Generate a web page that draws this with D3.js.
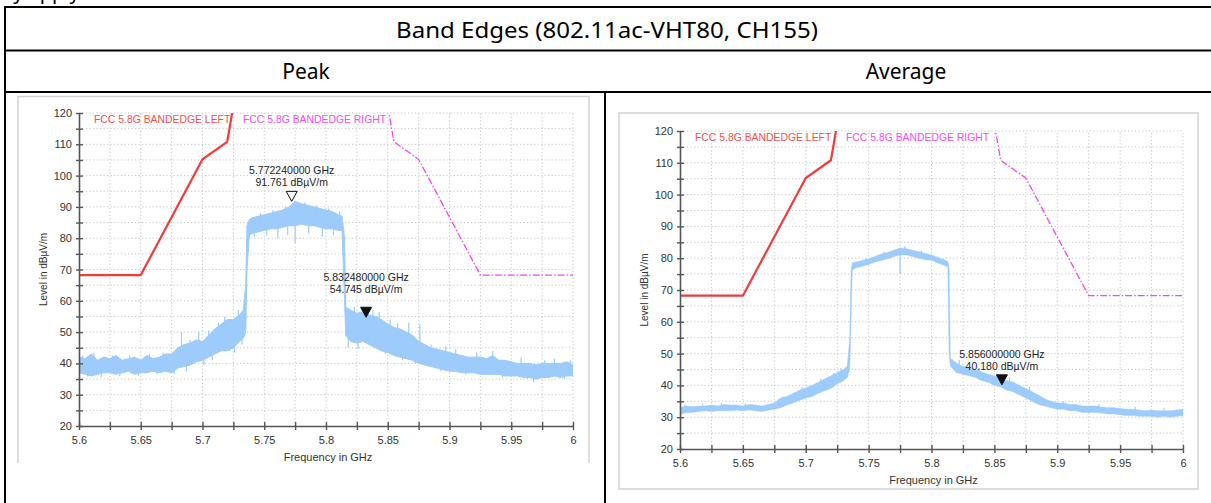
<!DOCTYPE html>
<html>
<head>
<meta charset="utf-8">
<script src="https://cdn.jsdelivr.net/npm/d3@7"></script>
<style>
body { margin: 0; background: #fff; }
svg { display: block; font-family: "Liberation Sans", Arial, sans-serif; }
</style>
</head>
<body>
<div id="chart"></div>
<script>
// spectrum traces, binned: [GHz, low dBuV/m, high dBuV/m]
var peakTrace = [
  [5.600,37,42],[5.605,36.5,41.5],[5.610,36,43],[5.615,36.5,41],[5.620,37,42],
  [5.625,37,41.5],[5.630,36.5,42.5],[5.635,37,41],[5.640,37.5,41.5],[5.645,36.5,42],
  [5.650,37,41],[5.655,37,42.5],[5.660,37.5,41.5],[5.665,37,42],[5.670,37.5,43],
  [5.675,37,43],[5.680,38.5,45],[5.685,39,46],[5.690,39.5,46.5],[5.695,40.5,47.5],
  [5.700,41,47],[5.705,42,49],[5.710,43,51],[5.715,44,52.5],[5.720,44,54],
  [5.725,45,54],[5.730,47,55.5],[5.733,48,57],[5.735,50,65],[5.736,70,84],
  [5.738,81,86],[5.740,81.5,86.5],[5.745,82,87],[5.750,82.5,87.5],[5.755,83,88],
  [5.760,83,88.5],[5.765,83.5,89],[5.770,84,90],[5.775,84,91.8],[5.780,84.5,91],
  [5.785,84,90.5],[5.790,84,90],[5.795,83.5,89.5],[5.800,83,89],[5.805,83,88.5],
  [5.810,82.5,87.5],[5.813,82.5,87],[5.815,60,80],[5.816,49,58],[5.820,47,57],
  [5.825,46.5,56],[5.830,47,56.5],[5.835,46,55.5],[5.840,45,55],[5.845,44,54],
  [5.850,43.5,52.5],[5.855,42.5,51.5],[5.860,42,51],[5.865,41.5,50],[5.870,41,49],
  [5.875,40,47],[5.880,39.5,46],[5.885,39,45],[5.890,38.5,44.5],[5.895,38,44],
  [5.900,37.5,43.5],[5.905,37.5,43],[5.910,37,42.5],[5.915,37,42],[5.920,37,42],
  [5.925,36.5,42],[5.930,36.5,41.5],[5.935,36.5,42.5],[5.940,36.5,41],[5.945,36,41],
  [5.950,36,40.5],[5.955,36,40],[5.960,35.5,40],[5.965,35.5,40],[5.970,35,39.5],
  [5.975,35.5,40],[5.980,35.5,40],[5.985,36,40],[5.990,35.5,40],[5.995,36,40.5],
  [6.000,36,39.5]
];
var peakSpikes = [
  [5.603,42.5],[5.607,35.8],[5.612,43.5],[5.618,35.5],[5.627,42.5],[5.633,36],[5.641,42.5],
  [5.648,36],[5.657,43],[5.663,36.5],[5.668,43.5],[5.677,36.5],[5.683,50],[5.687,37.5],
  [5.690,47.5],[5.697,50],[5.701,39.5],[5.705,50.5],[5.708,41],[5.713,53],[5.718,55],
  [5.722,44],[5.726,43.5],[5.729,57],[5.732,46],[5.742,80.5],[5.747,88],[5.752,80.8],
  [5.757,89],[5.761,80],[5.767,90],[5.769,81],[5.775,78.5],[5.778,91.5],[5.783,91.5],
  [5.786,81.5],[5.792,90.5],[5.797,80.5],[5.802,89.5],[5.806,81],[5.811,88.5],
  [5.818,45],[5.823,58],[5.826,44.5],[5.832,55.5],[5.838,57],[5.843,56.5],[5.848,43],
  [5.852,54],[5.858,53],[5.862,41],[5.867,53],[5.872,40],[5.876,52.5],[5.885,46],
  [5.893,37.5],[5.897,45.5],[5.905,44.5],[5.913,36.5],[5.922,43.5],[5.935,44],
  [5.943,35.5],[5.958,42],[5.963,35],[5.968,34],[5.977,41],[5.985,41.5],[5.993,35],[5.998,41]
];
var avgTrace = [
  [5.600,30.8,33],[5.605,31.5,33.5],[5.610,31.5,33.3],[5.615,31.8,33.5],[5.620,32,33.5],
  [5.625,31.8,33.8],[5.630,32,33.5],[5.635,32,34],[5.640,32,33.8],[5.645,32.2,33.8],
  [5.650,32,33.5],[5.655,32.3,34],[5.660,32,33.8],[5.665,31.8,33.5],[5.670,32.2,34],
  [5.675,32.5,34.5],[5.680,33,36],[5.685,33.8,36.5],[5.690,34.5,37.5],[5.695,35.3,38.5],
  [5.700,36,39.3],[5.705,36.5,40],[5.710,37.5,41],[5.715,38.3,42],[5.720,39,43],
  [5.725,40.5,44],[5.730,41.5,45],[5.733,42.5,46],[5.735,45,55],[5.736,60,76],
  [5.737,76.3,78.5],[5.740,77,78.8],[5.745,77.5,79.3],[5.750,78,79.8],[5.755,78.8,80.5],
  [5.760,79.3,81.3],[5.765,79.8,81.8],[5.770,80.5,82.5],[5.775,81,83.2],[5.780,81,83],
  [5.785,80.5,82.5],[5.790,80,82],[5.795,79.5,81.5],[5.800,79.3,81],[5.805,78.5,80.3],
  [5.810,77.8,79.5],[5.813,77.3,79],[5.814,50,77],[5.815,46,48.5],[5.820,44,47],
  [5.825,43.5,46],[5.830,43,45.5],[5.835,42.5,45],[5.840,41.5,44.2],[5.845,41,43.5],
  [5.850,40,43],[5.855,39.5,42],[5.860,38.5,41.5],[5.865,38,41],[5.870,37,40],
  [5.875,36,39],[5.880,35,38],[5.885,34,37],[5.890,33.5,35.8],[5.895,33,35],
  [5.900,32.5,34.5],[5.905,32.5,34.5],[5.910,32,34],[5.915,32,34],[5.920,31.5,33.5],
  [5.925,31.5,33.5],[5.930,31.5,33.5],[5.935,31.3,33.2],[5.940,31,33],[5.945,31,33],
  [5.950,30.8,32.7],[5.955,30.5,32.5],[5.960,30.5,32.5],[5.965,30.3,32.3],[5.970,30.3,32],
  [5.975,30.3,32.3],[5.980,30,32],[5.985,30.3,32],[5.990,30,32],[5.995,30.3,32.3],
  [6.000,30.5,32.5]
];
var avgSpikes = [
  [5.604,34],[5.618,34.2],[5.633,34.5],[5.652,34.3],[5.682,36.5],[5.697,39.5],[5.712,42],
  [5.722,43.8],[5.728,45.5],[5.748,80],[5.762,82],[5.775,75],[5.779,83.8],[5.792,82.5],
  [5.822,48],[5.838,45.5],[5.852,43.5],[5.862,42.5],[5.878,39.5],[5.905,35],[5.933,34],
  [5.962,33.2],[5.985,32.8]
];

// FCC 15.407 band edge masks
var limitLeft = [[5.6,68.2],[5.65,68.2],[5.7,105.2],[5.72,110.8],[5.725,122.2]];
var limitRight = [[5.85,122.2],[5.855,110.8],[5.875,105.2],[5.925,68.2],[6,68.2]];

var peakMarkers = [{f: 5.77224, level: 91.761, filled: false}, {f: 5.83248, level: 54.745, filled: true}];
var avgMarkers = [{f: 5.856, level: 40.180, filled: true}];

var freqTicks = [5.6,5.625,5.65,5.675,5.7,5.725,5.75,5.775,5.8,5.825,5.85,5.875,5.9,5.925,5.95,5.975,6];
var freqLabels = ["5.6","","5.65","","5.7","","5.75","","5.8","","5.85","","5.9","","5.95","","6"];
var levelTicks = [20,25,30,35,40,45,50,55,60,65,70,75,80,85,90,95,100,105,110,115,120];
var levelLabels = ["20","","30","","40","","50","","60","","70","","80","","90","","100","","110","","120"];

var headers = ["Band Edges (802.11ac-VHT80, CH155)", "Peak", "Average"];
var legendNames = ["FCC 5.8G BANDEDGE LEFT", "FCC 5.8G BANDEDGE RIGHT"];

var W = 1211, H = 503;
var svg = d3.select("#chart").append("svg").attr("width", W).attr("height", H);

// table
svg.append("text").text("ly apply").attr("x", 8).attr("y", -1)
  .style("font-family", "'Noto Sans', sans-serif").style("font-size", "20px");
var border = svg.append("g").attr("stroke", "#000").attr("stroke-width", 2);
border.append("line").attr("x1", 4).attr("x2", W).attr("y1", 7).attr("y2", 7);
border.append("line").attr("x1", 4).attr("x2", W).attr("y1", 50.5).attr("y2", 50.5);
border.append("line").attr("x1", 4).attr("x2", W).attr("y1", 92).attr("y2", 92);
border.append("line").attr("x1", 5).attr("x2", 5).attr("y1", 6).attr("y2", H);
border.append("line").attr("x1", 605).attr("x2", 605).attr("y1", 92).attr("y2", H);

svg.append("text").text(headers[0]).attr("x", 607).attr("y", 37.5)
  .attr("text-anchor", "middle").attr("textLength", 422).attr("lengthAdjust", "spacingAndGlyphs")
  .style("font-family", "'Noto Sans', sans-serif").style("font-size", "21px");
svg.append("text").text(headers[1]).attr("x", 306).attr("y", 79)
  .attr("text-anchor", "middle")
  .style("font-family", "'Noto Sans', sans-serif").style("font-size", "21px");
svg.append("text").text(headers[2]).attr("x", 906).attr("y", 79)
  .attr("text-anchor", "middle")
  .style("font-family", "'Noto Sans', sans-serif").style("font-size", "21px");

function drawPanel(p) {
  var g = svg.append("g");

  // screenshot frame
  if (p.openBottom) {
    g.append("path")
      .attr("d", "M" + p.box[0] + "," + p.box[3] + "V" + p.box[1] + "H" + p.box[2] + "V" + p.box[3])
      .attr("fill", "none").attr("stroke", "#d2d2d2").attr("stroke-width", 1.5);
  } else {
    g.append("rect").attr("x", p.box[0]).attr("y", p.box[1])
      .attr("width", p.box[2] - p.box[0]).attr("height", p.box[3] - p.box[1])
      .attr("fill", "none").attr("stroke", "#d2d2d2").attr("stroke-width", 1.5);
  }

  var x = d3.scaleLinear().domain([5.6, 6]).range(p.xr);
  var y = d3.scaleLinear().domain([20, 120]).range(p.yr);

  g.append("clipPath").attr("id", p.id + "-clip").append("rect")
    .attr("x", x(5.6)).attr("y", y(120)).attr("width", x(6) - x(5.6)).attr("height", y(20) - y(120));

  // dotted grid
  var grid = g.append("g").attr("stroke", "#c4c4c4").attr("stroke-dasharray", "1.2,2.3").attr("stroke-width", 1);
  grid.selectAll(".h").data(levelTicks.slice(1)).enter().append("line")
    .attr("x1", x(5.6)).attr("x2", x(6)).attr("y1", function(d){ return y(d); }).attr("y2", function(d){ return y(d); });
  grid.selectAll(".v").data(freqTicks.slice(1)).enter().append("line")
    .attr("y1", y(20)).attr("y2", y(120)).attr("x1", function(d){ return x(d); }).attr("x2", function(d){ return x(d); });

  var plot = g.append("g").attr("clip-path", "url(#" + p.id + "-clip)");

  // trace band
  var area = d3.area()
    .x(function(d){ return x(d[0]); })
    .y0(function(d){ return y(d[1]); })
    .y1(function(d){ return y(d[2]); });
  plot.append("path").datum(p.trace).attr("d", area)
    .attr("fill", "#9dcbfb").attr("stroke", "#9dcbfb").attr("stroke-width", p.edge);

  var bis = d3.bisector(function(d){ return d[0]; }).center;
  plot.selectAll(".spike").data(p.spikes).enter().append("line")
    .attr("x1", function(d){ return x(d[0]); }).attr("x2", function(d){ return x(d[0]); })
    .attr("y1", function(d){ var b = p.trace[bis(p.trace, d[0])]; return y((b[1] + b[2]) / 2); })
    .attr("y2", function(d){ return y(d[1]); })
    .attr("stroke", "#9dcbfb").attr("stroke-width", 1.2);

  var line = d3.line().x(function(d){ return x(d[0]); }).y(function(d){ return y(d[1]); });
  plot.append("path").datum(limitLeft).attr("d", line)
    .attr("fill", "none").attr("stroke", "#f23c3c").attr("stroke-width", 2.2);
  plot.append("path").datum(limitRight).attr("d", line)
    .attr("fill", "none").attr("stroke", "#f346f3").attr("stroke-width", 1.3)
    .attr("stroke-dasharray", "7,2,1.5,2");

  // axes
  var yAxis = d3.axisLeft(y).tickValues(levelTicks)
    .tickFormat(function(d, i){ return levelLabels[i]; })
    .tickSizeInner(3).tickSizeOuter(0).tickPadding(4);
  var xAxis = d3.axisBottom(x).tickValues(freqTicks)
    .tickFormat(function(d, i){ return freqLabels[i]; })
    .tickSizeInner(4).tickSizeOuter(0).tickPadding(6);

  [g.append("g").attr("transform", "translate(" + x(5.6) + ",0)").call(yAxis),
   g.append("g").attr("transform", "translate(0," + y(20) + ")").call(xAxis)].forEach(function(ax, k){
    ax.select(".domain").attr("stroke", "#555").attr("stroke-width", 1.6);
    ax.selectAll(".tick line").attr("stroke", "#555").attr("stroke-width", 1.4);
    if (k === 0) ax.selectAll(".tick line").attr("x1", 4);
    else ax.selectAll(".tick line").attr("y1", -4);
    ax.selectAll("text").attr("fill", "#333").style("font-size", p.fs + "px")
      .style("font-family", "'Liberation Sans', Arial, sans-serif");
  });

  // axis titles
  g.append("text").text("Frequency in GHz")
    .attr("x", (p.xr[0] + p.xr[1]) / 2 + 2).attr("y", y(20) + 35)
    .attr("text-anchor", "middle").attr("fill", "#333").style("font-size", "11px");
  g.append("text").text("Level in dBµV/m")
    .attr("transform", "translate(" + (x(5.6) - 32) + "," + (p.yr[0] + p.yr[1]) / 2 + ") rotate(-90)")
    .attr("text-anchor", "middle").attr("fill", "#333").style("font-size", "10px");

  // legend names
  g.append("text").text(legendNames[0]).attr("x", p.legendX[0]).attr("y", y(120) + 10)
    .attr("fill", "#f24f4f").style("font-size", "10.4px");
  g.append("text").text(legendNames[1]).attr("x", p.legendX[1]).attr("y", y(120) + 10)
    .attr("fill", "#f04ef0").style("font-size", "10.4px");

  // markers
  p.markers.forEach(function(m, i){
    var mx = x(m.f), my = y(m.level);
    g.append("path").attr("d", "M" + (mx - 5.5) + "," + (my - 10) + "H" + (mx + 5.5) + "L" + mx + "," + my + "Z")
      .attr("fill", m.filled ? "#111" : "#fff").attr("stroke", "#111").attr("stroke-width", 1);
    g.append("text").text(m.f.toFixed(9) + " GHz").attr("x", mx).attr("y", my - p.lifts[i] - 12)
      .attr("text-anchor", "middle").attr("fill", "#222").style("font-size", "10.5px");
    g.append("text").text(m.level.toFixed(3) + " dBµV/m").attr("x", mx).attr("y", my - p.lifts[i])
      .attr("text-anchor", "middle").attr("fill", "#222").style("font-size", "10.5px");
  });
}

drawPanel({
  id: "peak", box: [18, 96.5, 589, 463], openBottom: true,
  xr: [79, 573], yr: [426, 113], fs: 11, edge: 1,
  trace: peakTrace, spikes: peakSpikes, markers: peakMarkers, lifts: [15, 24],
  legendX: [94, 243]
});
drawPanel({
  id: "avg", box: [619, 113, 1198, 489], openBottom: false,
  xr: [680, 1183], yr: [449, 131], fs: 11, edge: 0.5,
  trace: avgTrace, spikes: avgSpikes, markers: avgMarkers, lifts: [15],
  legendX: [695, 846]
});
</script>
</body>
</html>
